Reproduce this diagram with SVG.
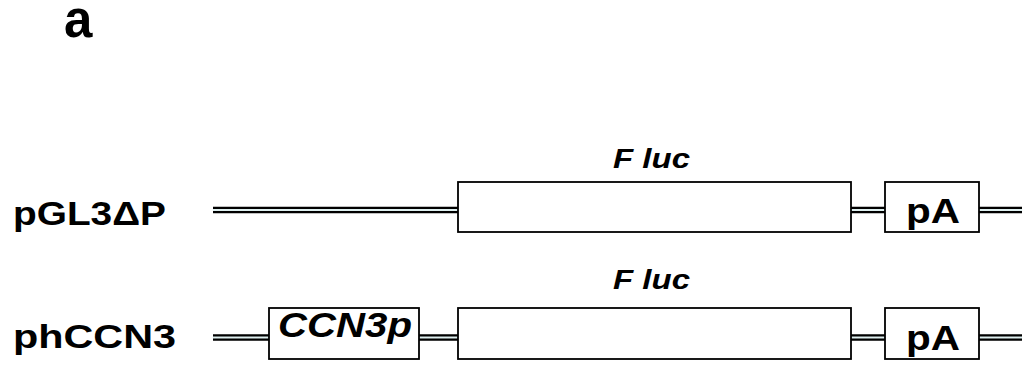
<svg xmlns="http://www.w3.org/2000/svg" width="1022" height="365" viewBox="0 0 1022 365">
<style>
.lbl{font-family:"Liberation Sans",Arial,sans-serif;font-weight:bold;fill:#000}
.it{font-style:italic}
.box{fill:#fff;stroke:#000;stroke-width:1.8}
.dl-o{stroke:#000;stroke-width:6.5;fill:none}
.dl-i{stroke:#dff0f0;stroke-width:2.2;fill:none}
</style>
<rect width="1022" height="365" fill="#fff"/>
<text class="lbl" x="64" y="37" font-size="51">a</text>
<g id="connectors">
<path class="dl-o" d="M213 210H458M851 210H885M979 210H1022M213 337.5H269M419 337.5H458M851 337.5H885M979 337.5H1022"/>
<path class="dl-i" d="M213 210H458M851 210H885M979 210H1022M213 337.5H269M419 337.5H458M851 337.5H885M979 337.5H1022"/>
</g>
<g id="label-pGL3dP"><text class="lbl" x="13" y="225" font-size="34" textLength="153" lengthAdjust="spacingAndGlyphs">pGL3ΔP</text></g>
<g id="label-phCCN3"><text class="lbl" x="13" y="348" font-size="34" textLength="163" lengthAdjust="spacingAndGlyphs">phCCN3</text></g>
<g id="fluc1">
<rect class="box" x="458" y="182" width="393" height="50"/>
<text class="lbl it" x="613" y="168" font-size="28" textLength="77" lengthAdjust="spacingAndGlyphs">F luc</text>
</g>
<g id="pA1">
<rect class="box" x="885" y="182" width="94" height="50"/>
<text class="lbl" x="906" y="223" font-size="35" textLength="54" lengthAdjust="spacingAndGlyphs">pA</text>
</g>
<g id="ccn3p">
<rect class="box" x="269" y="308" width="150" height="51"/>
<text class="lbl it" x="278" y="337" font-size="35" textLength="134" lengthAdjust="spacingAndGlyphs">CCN3p</text>
</g>
<g id="fluc2">
<rect class="box" x="458" y="308" width="393" height="51"/>
<text class="lbl it" x="613" y="289" font-size="28" textLength="77" lengthAdjust="spacingAndGlyphs">F luc</text>
</g>
<g id="pA2">
<rect class="box" x="885" y="308" width="94" height="51"/>
<text class="lbl" x="906" y="350" font-size="35" textLength="54" lengthAdjust="spacingAndGlyphs">pA</text>
</g>
</svg>
